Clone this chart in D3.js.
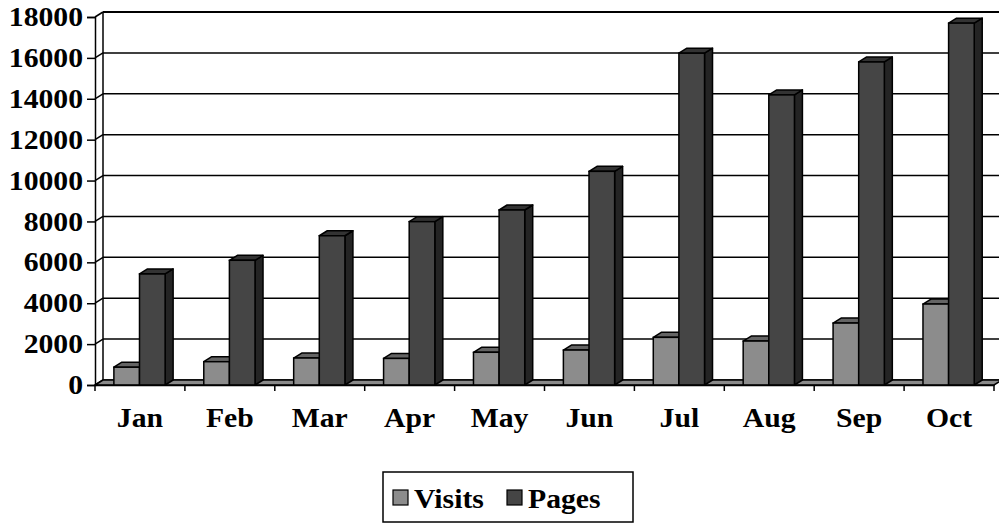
<html>
<script src='https://d3js.org/d3.v7.min.js'></script>
<style>
body {margin:0; background:#fff;}
svg text {font-family:"Liberation Serif","Times New Roman","DejaVu Serif",serif !important; font-weight:bold; fill:#000;}
</style>
<body>
<svg width=999 height=523></svg>
<script>
// data
var months = ['Jan','Feb','Mar','Apr','May','Jun','Jul','Aug','Sep','Oct'];
var series = ['Visits','Pages'];
var visits = [870, 1140, 1320, 1300, 1600, 1710, 2330, 2150, 3030, 3960];
var pages  = [5430, 6100, 7300, 7990, 8560, 10450, 16230, 14190, 15800, 17700];
var yTicks = [0,2000,4000,6000,8000,10000,12000,14000,16000,18000];

var colors = {
  Visits: {front:'#8c8c8c', top:'#646464', side:'#4a4a4a'},
  Pages:  {front:'#454545', top:'#333333', side:'#242424'}
};
var font = '"Liberation Serif","Times New Roman","DejaVu Serif",serif';

var svg = d3.select('svg');
var dx = 8, dy = -5;   // 3d depth offset

var y = d3.scaleLinear().domain([0,18000]).range([385,17]);
var x0 = d3.scaleBand().domain(months).range([95,994]).padding(0);
var bw = x0.bandwidth();
var x1 = d3.scaleBand().domain(series).range([bw*0.21, bw*0.78]).padding(0);

var rows = months.map(function(m,i) { return {month:m, Visits:visits[i], Pages:pages[i]}; });

// back wall gridlines + left wall diagonals
var grid = svg.append('g');
grid.selectAll('line.g').data(yTicks).enter().append('line')
  .attr('x1', x0.range()[0]+dx).attr('x2', 1005)
  .attr('y1', function(d){return y(d)+dy;}).attr('y2', function(d){return y(d)+dy;})
  .attr('stroke','#000').attr('stroke-width', function(d){return d==18000?2.2:1.5;});
grid.selectAll('line.d').data(yTicks).enter().append('line')
  .attr('x1', x0.range()[0]).attr('x2', x0.range()[0]+dx)
  .attr('y1', function(d){return y(d);}).attr('y2', function(d){return y(d)+dy;})
  .attr('stroke','#000').attr('stroke-width',1.5);
// left wall verticals
grid.append('line').attr('x1',x0.range()[0]+dx).attr('x2',x0.range()[0]+dx)
  .attr('y1',y(18000)+dy).attr('y2',y(0)+dy).attr('stroke','#000').attr('stroke-width',1.5);

// floor
var fx0 = x0.range()[0], fx1 = x0.range()[1];
svg.append('path')
  .attr('d', 'M'+fx0+','+y(0)+'L'+fx1+','+y(0)+'L'+(fx1+dx)+','+(y(0)+dy)+'L'+(fx0+dx)+','+(y(0)+dy)+'Z')
  .attr('fill','#8a8a8a').attr('stroke','#000').attr('stroke-width',1.5);

// bars
var bars = svg.append('g').selectAll('g').data(rows).enter().append('g')
  .attr('transform', function(d){return 'translate('+x0(d.month)+',0)';});

series.forEach(function(s) {
  var g = bars.append('g');
  g.append('path')   // side
    .attr('d', function(d){
      var xl = x1(s)+x1.bandwidth(), yt = y(d[s]), yb = y(0);
      return 'M'+xl+','+yb+'L'+xl+','+yt+'L'+(xl+dx)+','+(yt+dy)+'L'+(xl+dx)+','+(yb+dy)+'Z';})
    .attr('fill', colors[s].side).attr('stroke','#000').attr('stroke-width',1.5).attr('stroke-linejoin','round');
  g.append('path')   // top
    .attr('d', function(d){
      var xa = x1(s), xb = x1(s)+x1.bandwidth(), yt = y(d[s]);
      return 'M'+xa+','+yt+'L'+xb+','+yt+'L'+(xb+dx)+','+(yt+dy)+'L'+(xa+dx)+','+(yt+dy)+'Z';})
    .attr('fill', colors[s].top).attr('stroke','#000').attr('stroke-width',1.5).attr('stroke-linejoin','round');
  g.append('rect')   // front
    .attr('x', x1(s)).attr('width', x1.bandwidth())
    .attr('y', function(d){return y(d[s]);})
    .attr('height', function(d){return y(0)-y(d[s]);})
    .attr('fill', colors[s].front).attr('stroke','#000').attr('stroke-width',1.5);
});

// y axis
var ya = svg.append('g').attr('transform','translate('+fx0+',0)')
  .call(d3.axisLeft(y).tickValues(yTicks).tickSize(8).tickPadding(4).tickFormat(d3.format('d')))
  .attr('font-family', font).attr('font-size', 27);
ya.select('.domain').attr('stroke-width',1.5);
ya.selectAll('.tick line').attr('stroke-width',1.5);
ya.selectAll('text').attr('font-family', font).attr('font-weight','bold')
  .attr('transform','scale(1.1,1)').attr('x', -12/1.1);

// x axis: labels at centres, ticks at category boundaries
var xa = svg.append('g').attr('transform','translate(0,'+y(0)+')')
  .call(d3.axisBottom(x0).tickSize(0).tickPadding(23))
  .attr('font-family', font).attr('font-size', 27);
xa.select('.domain').attr('stroke-width',1.5);
xa.selectAll('text').attr('font-family', font).attr('font-weight','bold')
  .attr('transform','scale(1.1,1)');
xa.selectAll('line.b').data(months.concat(['end'])).enter().append('line')
  .attr('x1', function(d){return d=='end'?fx1:x0(d);})
  .attr('x2', function(d){return d=='end'?fx1:x0(d);})
  .attr('y1',0).attr('y2',6).attr('stroke','#000').attr('stroke-width',1.5);

// legend
var lg = svg.append('g');
lg.append('rect').attr('x',383).attr('y',472).attr('width',250).attr('height',50)
  .attr('fill','#fff').attr('stroke','#000').attr('stroke-width',1.5);
var lx = {Visits:393, Pages:507};
series.forEach(function(s) {
  lg.append('rect').attr('x',lx[s]).attr('y',490).attr('width',15).attr('height',15)
    .attr('fill',colors[s].front).attr('stroke','#000').attr('stroke-width',1.2);
  lg.append('text').attr('transform','translate('+(lx[s]+21)+',508) scale(1.1,1)')
    .attr('font-family', font).attr('font-size',27).attr('font-weight','bold').text(s);
});
</script>
</body>
</html>
